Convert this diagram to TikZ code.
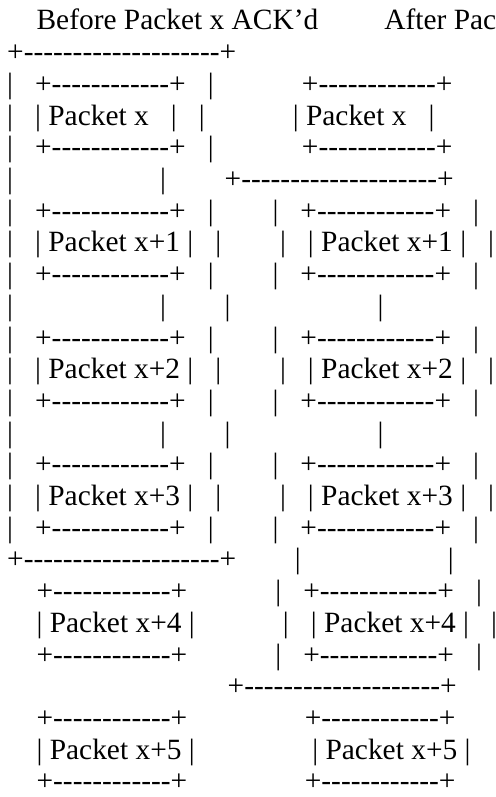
\documentclass[tikz,border=0pt]{standalone}
\usepackage{fontspec}
\setmainfont{Liberation Serif}
\newcommand\dsh[1]{\foreach \k in {1,...,#1}{\hbox{-}}}
\newcommand\sps[1]{\hskip#1\fontdimen2\font\relax}
\newcommand\ibx{+\dsh{12}+}
\newcommand\obx{+\dsh{20}+}
\begin{document}
\begin{tikzpicture}[x=1pt,y=1pt,
  asc/.style={anchor=base west, inner sep=0pt, font=\fontsize{29.4}{31.7}\selectfont}]
\fill[white] (0,0) rectangle (495,-797);
\useasboundingbox (0,0) rectangle (495,-797);
\clip (0,0) rectangle (495,-797);
\node[asc] (l0) at (7,{-30-31.7*0}) {\sps4Before Packet x ACK’d\sps9After Pac};
\node[asc] (l1) at (7,{-30-31.7*1}) {\obx};
\node[asc] (l2) at (7,{-30-31.7*2}) {|\sps3\ibx\sps3|\sps{12}\ibx};
\node[asc] (l3) at (7,{-30-31.7*3}) {|\sps3| Packet x\sps3|\sps3|\sps{12}| Packet x\sps3|};
\node[asc] (l4) at (7,{-30-31.7*4}) {|\sps3\ibx\sps3|\sps{12}\ibx};
\node[asc] (l5) at (7,{-30-31.7*5}) {|\sps{20}|\sps8\obx};
\node[asc] (l6) at (7,{-30-31.7*6}) {|\sps3\ibx\sps3|\sps8|\sps3\ibx\sps3|};
\node[asc] (l7) at (7,{-30-31.7*7}) {|\sps3| Packet x+1 |\sps3|\sps8|\sps3| Packet x+1 |\sps3|};
\node[asc] (l8) at (7,{-30-31.7*8}) {|\sps3\ibx\sps3|\sps8|\sps3\ibx\sps3|};
\node[asc] (l9) at (7,{-30-31.7*9}) {|\sps{20}|\sps8|\sps{20}|};
\node[asc] (l10) at (7,{-30-31.7*10}) {|\sps3\ibx\sps3|\sps8|\sps3\ibx\sps3|};
\node[asc] (l11) at (7,{-30-31.7*11}) {|\sps3| Packet x+2 |\sps3|\sps8|\sps3| Packet x+2 |\sps3|};
\node[asc] (l12) at (7,{-30-31.7*12}) {|\sps3\ibx\sps3|\sps8|\sps3\ibx\sps3|};
\node[asc] (l13) at (7,{-30-31.7*13}) {|\sps{20}|\sps8|\sps{20}|};
\node[asc] (l14) at (7,{-30-31.7*14}) {|\sps3\ibx\sps3|\sps8|\sps3\ibx\sps3|};
\node[asc] (l15) at (7,{-30-31.7*15}) {|\sps3| Packet x+3 |\sps3|\sps8|\sps3| Packet x+3 |\sps3|};
\node[asc] (l16) at (7,{-30-31.7*16}) {|\sps3\ibx\sps3|\sps8|\sps3\ibx\sps3|};
\node[asc] (l17) at (7,{-30-31.7*17}) {\obx\sps8|\sps{20}|};
\node[asc] (l18) at (7,{-30-31.7*18}) {\sps4\ibx\sps{12}|\sps3\ibx\sps3|};
\node[asc] (l19) at (7,{-30-31.7*19}) {\sps4| Packet x+4 |\sps{12}|\sps3| Packet x+4 |\sps3|};
\node[asc] (l20) at (7,{-30-31.7*20}) {\sps4\ibx\sps{12}|\sps3\ibx\sps3|};
\node[asc] (l21) at (7,{-30-31.7*21}) {\sps{30}\obx};
\node[asc] (l22) at (7,{-30-31.7*22}) {\sps4\ibx\sps{16}\ibx};
\node[asc] (l23) at (7,{-30-31.7*23}) {\sps4| Packet x+5 |\sps{16}| Packet x+5 |};
\node[asc] (l24) at (7,{-30-31.7*24}) {\sps4\ibx\sps{16}\ibx};
\end{tikzpicture}
\end{document}
